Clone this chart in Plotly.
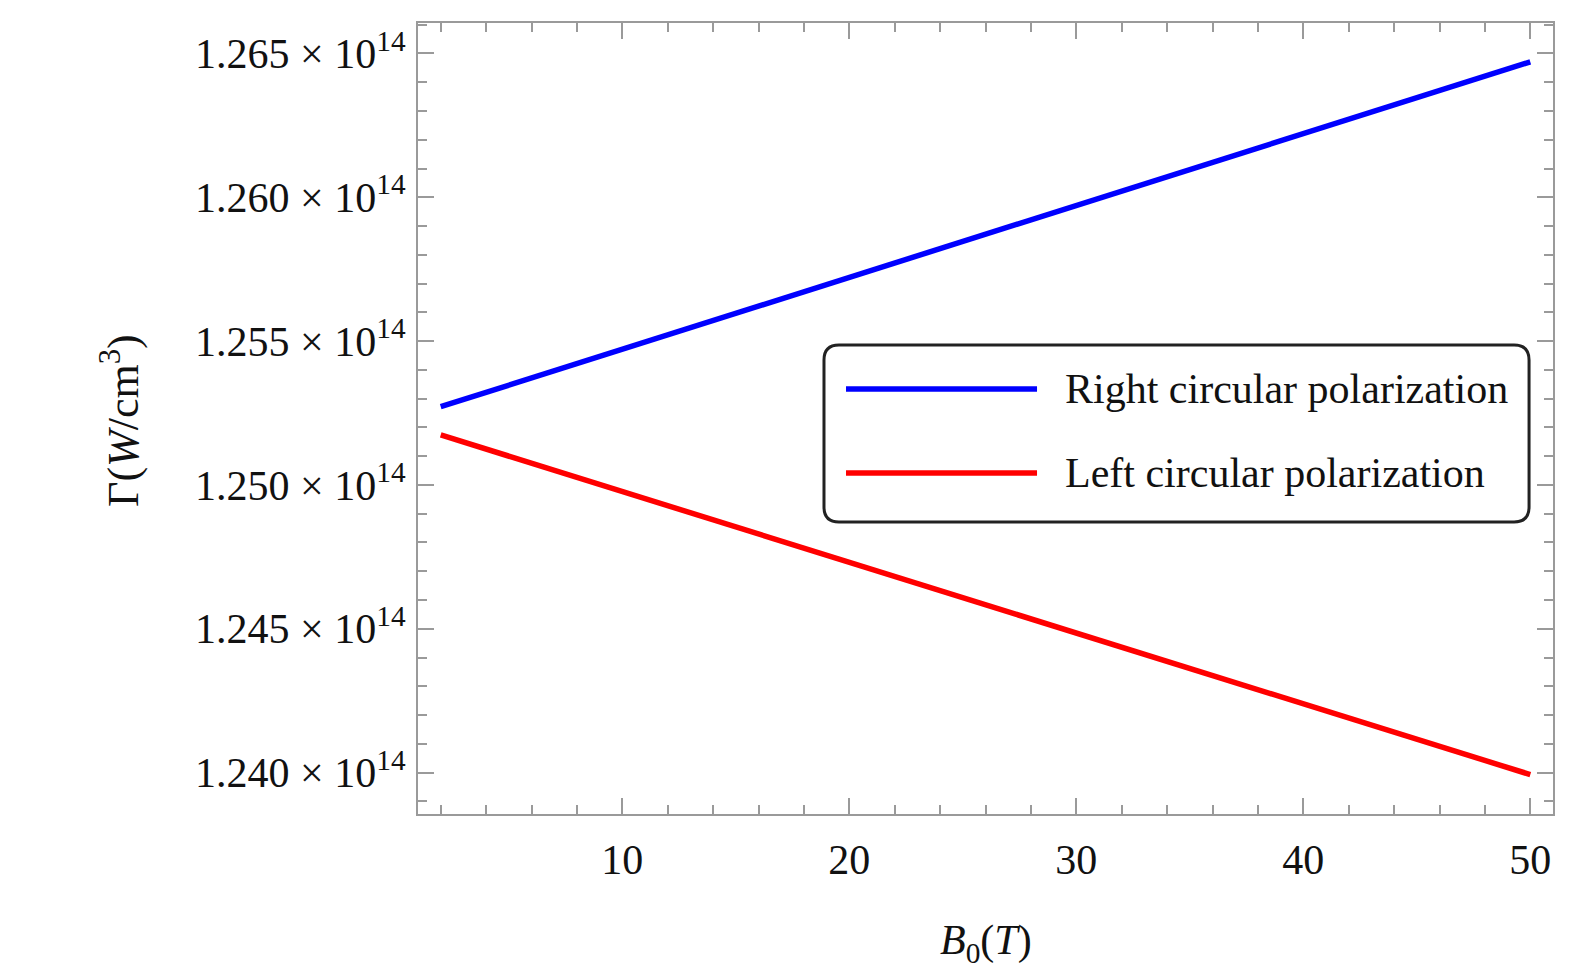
import plotly.graph_objects as go

# ---- data ----
b0 = [2, 10, 20, 30, 40, 50]
right_circular = [1.25272e14, 1.25472e14, 1.25722e14, 1.25971e14, 1.26221e14, 1.26471e14]
left_circular = [1.25174e14, 1.24977e14, 1.24731e14, 1.24485e14, 1.24239e14, 1.23993e14]

x_ticks = [10, 20, 30, 40, 50]
y_ticks = [1.240e14, 1.245e14, 1.250e14, 1.255e14, 1.260e14, 1.265e14]
y_tick_text = ["1.240 × 10<sup>14</sup>", "1.245 × 10<sup>14</sup>", "1.250 × 10<sup>14</sup>",
               "1.255 × 10<sup>14</sup>", "1.260 × 10<sup>14</sup>", "1.265 × 10<sup>14</sup>"]
series_names = ["Right circular polarization", "Left circular polarization"]
series_colors = ["#0000ff", "#ff0000"]

FONT = "Liberation Serif"
AXIS_COLOR = "#9a9a9a"

fig = go.Figure()
fig.add_trace(go.Scatter(x=b0, y=right_circular, mode="lines", name=series_names[0],
                         line=dict(color=series_colors[0], width=5.5)))
fig.add_trace(go.Scatter(x=b0, y=left_circular, mode="lines", name=series_names[1],
                         line=dict(color=series_colors[1], width=5.5)))

common_axis = dict(showline=True, linecolor=AXIS_COLOR, linewidth=2, mirror="allticks",
                   ticks="inside", tickcolor=AXIS_COLOR, tickwidth=1.5, ticklen=16,
                   showgrid=False, zeroline=False,
                   tickfont=dict(family=FONT, size=42, color="#111111"))

fig.update_xaxes(range=[1.0, 51.0], tickvals=x_ticks, ticklabelstandoff=8,
                 minor=dict(ticks="inside", ticklen=9, tickcolor=AXIS_COLOR, tickwidth=1.5,
                            dtick=2, tick0=0, showgrid=False),
                 **common_axis)
fig.update_yaxes(range=[1.23856e14, 1.26606e14], tickvals=y_ticks, ticktext=y_tick_text,
                 ticklabelstandoff=2,
                 minor=dict(ticks="inside", ticklen=9, tickcolor=AXIS_COLOR, tickwidth=1.5,
                            dtick=1e11, tick0=1.24e14, showgrid=False),
                 **common_axis)

# ---- legend drawn as a rounded box (paper coordinates) ----
x0, x1, y0, y1 = 0.3577, 0.9789, 0.3692, 0.5929
rx, ry = 0.0132, 0.019
path = (f"M{x0+rx},{y1} L{x1-rx},{y1} Q{x1},{y1} {x1},{y1-ry} "
        f"L{x1},{y0+ry} Q{x1},{y0} {x1-rx},{y0} L{x0+rx},{y0} "
        f"Q{x0},{y0} {x0},{y0+ry} L{x0},{y1-ry} Q{x0},{y1} {x0+rx},{y1} Z")
shapes = [dict(type="path", path=path, xref="paper", yref="paper",
               line=dict(color="#222222", width=3), fillcolor="white", layer="above")]
legend_rows = [0.5373, 0.4311]
annotations = []
for name, color, yr in zip(series_names, series_colors, legend_rows):
    shapes.append(dict(type="line", xref="paper", yref="paper", x0=0.3771, x1=0.5454,
                       y0=yr, y1=yr, line=dict(color=color, width=5.5), layer="above"))
    annotations.append(dict(text=name, xref="paper", yref="paper", x=0.5683, y=yr,
                            xanchor="left", yanchor="middle", showarrow=False,
                            font=dict(family=FONT, size=42, color="#111111")))

annotations.append(dict(text="<i>B</i><sub>0</sub>(<i>T</i>)", xref="paper", yref="paper",
                        x=0.5, y=-0.163, xanchor="center", yanchor="middle", showarrow=False,
                        font=dict(family=FONT, size=42, color="#111111")))
annotations.append(dict(text="Γ(<i>W</i>/cm<sup>3</sup>)", xref="paper", yref="paper",
                        x=-0.2626, y=0.498, xanchor="center", yanchor="middle", showarrow=False,
                        textangle=-90, font=dict(family=FONT, size=44, color="#111111")))

# page body adds an 8 px margin, so the figure is 8 px smaller on each side
fig.update_layout(width=1565, height=962, margin=dict(l=410, r=20, t=15, b=156),
                  paper_bgcolor="white", plot_bgcolor="white", showlegend=False,
                  shapes=shapes, annotations=annotations,
                  font=dict(family=FONT, color="#111111"))

fig.write_html("out.html")
